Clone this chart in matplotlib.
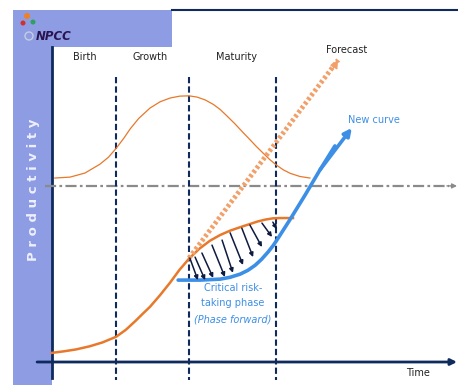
import matplotlib.pyplot as plt
import matplotlib.patches as patches

# Phase boundaries on the time axis
phase_names = ["Birth", "Growth", "Maturity"]
phase_label_t = [8.2, 24.4, 45.7]
phase_bounds_t = [15.9, 34.0, 55.6]

# Industry life cycle (bell shaped, thin line)
bell_t = [0.7, 4.5, 8.2, 11.9, 14.0, 15.9, 17.8, 19.4, 21.5, 24.3, 26.8, 29.3, 31.7, 34.0,
          36.0, 38.0, 40.0, 41.7, 43.5, 45.4, 47.3, 49.1, 50.8, 52.4, 54.0, 55.6, 57.4,
          59.1, 61.5, 64.0]
bell_p = [58.4, 58.7, 60.0, 62.8, 65.0, 67.8, 71.0, 74.0, 77.3, 80.6, 82.6, 83.8, 84.4, 84.5,
          84.1, 83.2, 81.8, 80.2, 78.0, 75.6, 73.0, 70.6, 68.3, 66.3, 64.3, 62.6, 61.0,
          59.9, 58.9, 58.4]

# Current productivity S-curve
scurve_t = [0.0, 3.0, 6.0, 9.4, 12.5, 15.9, 18.3, 20.6, 22.5, 24.3, 26.8, 29.3, 31.6, 34.0,
            36.6, 39.2, 41.7, 44.2, 46.7, 49.1, 51.0, 52.9, 54.8, 56.6, 59.8]
scurve_p = [2.9, 3.4, 4.0, 5.0, 6.2, 8.0, 10.2, 12.9, 15.3, 17.5, 21.2, 25.2, 29.2, 32.8,
            36.0, 38.5, 40.3, 41.7, 42.8, 43.8, 44.6, 45.2, 45.6, 45.7, 45.7]

# New curve after the dip
newcurve_t = [31.3, 36.7, 41.7, 44.2, 46.7, 48.6, 50.4, 52.0, 53.6, 54.9, 56.1, 57.6, 59.1,
              62.8, 66.5, 70.2, 74.4]
newcurve_p = [26.0, 26.0, 26.3, 26.9, 27.9, 29.1, 30.7, 32.6, 34.9, 37.0, 39.3, 42.3, 45.3,
              53.0, 61.0, 68.6, 74.3]

# Straight-line forecast
forecast_t = [34.0, 71.0]
forecast_p = [33.0, 95.9]

# Drop arrows between the old curve and the new curve
drop_t0 = [34.2, 35.5, 37.2, 39.7, 42.2, 44.2, 47.1, 49.1, 52.1, 54.8]
drop_p0 = [33.0, 33.3, 34.6, 37.1, 38.7, 41.0, 42.5, 43.5, 44.1, 44.4]
drop_t1 = [36.2, 38.0, 40.0, 42.9, 44.9, 47.4, 49.9, 52.1, 54.6, 55.8]
drop_p1 = [26.0, 26.0, 26.7, 27.0, 28.3, 30.8, 33.3, 36.5, 39.7, 42.2]

navy = '#0f2a5c'
orange = '#e8782a'
light_orange = '#f2a06a'
blue = '#3d8fe6'
band = '#8e9ce4'

fig = plt.figure(figsize=(4.58, 3.85), dpi=100)

# Background decoration in pixel units
bg = fig.add_axes([0, 0, 1, 1])
bg.set_xlim(0, 458)
bg.set_ylim(385, 0)
bg.axis('off')
bg.add_patch(patches.Rectangle((13, 10), 39, 375, facecolor=band, edgecolor='none'))
bg.add_patch(patches.Rectangle((13, 10), 159, 37, facecolor=band, edgecolor='none'))
bg.plot([172, 458], [10, 10], color=navy, lw=1.5)

# small logo
bg.add_patch(patches.Circle((27, 16), 3.0, facecolor='#f08020', edgecolor='none'))
bg.add_patch(patches.Circle((23, 23), 2.5, facecolor='#d03030', edgecolor='none'))
bg.add_patch(patches.Circle((33, 22), 2.5, facecolor='#30a060', edgecolor='none'))
bg.add_patch(patches.Circle((29, 36), 4, facecolor='none', edgecolor='#c8cce0', lw=1))
bg.text(36, 37, "NPCC", fontsize=8.5, fontweight='bold', fontstyle='italic',
        color='#2a1450', ha='left', va='center')
bg.text(34, 190, "P r o d u c t i v i t y", rotation=90, fontsize=9.5, fontweight='bold',
        color='#eef0ff', ha='center', va='center')

# Main chart axes
ax = fig.add_axes([52 / 458, 23 / 385, 403 / 458, 315 / 385])
ax.set_xlim(0, 100)
ax.set_ylim(0, 100)
ax.axis('off')

# axes lines
ax.plot([0, 0], [100, -5.1], color=navy, lw=2, clip_on=False)
ax.annotate('', xy=(100.5, 0), xytext=(-3.7, 0), annotation_clip=False,
            arrowprops=dict(arrowstyle='-|>', lw=2, color=navy, mutation_scale=9, shrinkA=0, shrinkB=0))

# gray reference line
ax.plot([-1.7, 98.5], [55.9, 55.9], color='#8a8a8a', lw=1.6,
        linestyle=(0, (5, 1.5, 1.2, 1.5)), clip_on=False)
ax.annotate('', xy=(100.5, 55.9), xytext=(98, 55.9), annotation_clip=False,
            arrowprops=dict(arrowstyle='-|>', lw=1, color='#8a8a8a', mutation_scale=7, shrinkA=0, shrinkB=0))

# phase boundaries
for t in phase_bounds_t:
    ax.plot([t, t], [90.5, -5.7], color=navy, lw=1.5, linestyle=(0, (3, 1.5)), clip_on=False)
for name, t in zip(phase_names, phase_label_t):
    ax.text(t, 96.8, name, fontsize=7, ha='center', va='center', color='#222222')

# curves
ax.plot(bell_t, bell_p, color=orange, lw=0.9, clip_on=False)
ax.plot(scurve_t, scurve_p, color=orange, lw=1.8, clip_on=False)

# forecast
ax.plot(forecast_t, forecast_p, color=light_orange, lw=3.5, linestyle=(0, (0.6, 0.5)),
        solid_capstyle='butt', clip_on=False)
ax.annotate('', xy=(forecast_t[-1], forecast_p[-1]),
            xytext=(forecast_t[-1] - 1.5, forecast_p[-1] - 3.2), annotation_clip=False,
            arrowprops=dict(arrowstyle='-|>', lw=1, color=light_orange, mutation_scale=12, shrinkA=0, shrinkB=0))

# drop arrows
for t0, p0, t1, p1 in zip(drop_t0, drop_p0, drop_t1, drop_p1):
    ax.annotate('', xy=(t1, p1), xytext=(t0, p0),
                arrowprops=dict(arrowstyle='-|>', lw=1.1, color='#0e1a40', mutation_scale=6, shrinkA=0, shrinkB=0))

# new curve
ax.plot(newcurve_t[:-1], newcurve_p[:-1], color=blue, lw=2.6, solid_capstyle='round', clip_on=False)
ax.annotate('', xy=(newcurve_t[-1], newcurve_p[-1]), xytext=(newcurve_t[-3], newcurve_p[-3]),
            annotation_clip=False,
            arrowprops=dict(arrowstyle='-|>', lw=2.6, color=blue, mutation_scale=11, shrinkA=0, shrinkB=0))

# labels
ax.text(73.0, 99.0, "Forecast", fontsize=7, ha='center', va='center', color='#222222')
ax.text(80.0, 76.8, "New curve", fontsize=7, ha='center', va='center', color=blue)
ax.text(90.8, -3.5, "Time", fontsize=7, ha='center', va='center', color='#222222')
ax.text(44.9, 23.5, "Critical risk-", fontsize=7, ha='center', va='center', color=blue)
ax.text(44.9, 18.7, "taking phase", fontsize=7, ha='center', va='center', color=blue)
ax.text(44.9, 13.5, "(Phase forward)", fontsize=7, ha='center', va='center', color=blue,
        fontstyle='italic')

fig.savefig('out.png', dpi=100)
plt.close(fig)
